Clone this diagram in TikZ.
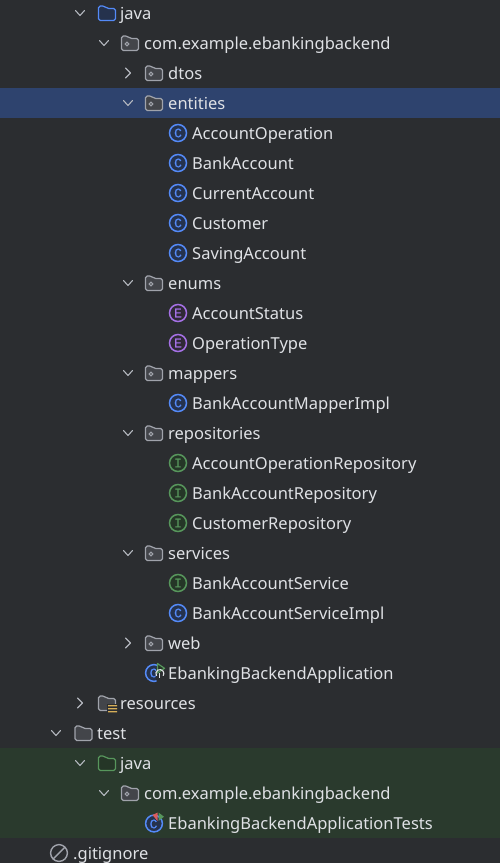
\documentclass[tikz,border=0pt]{standalone}
\usepackage{fontspec}
\setmainfont{Noto Sans}
\newfontfamily\monoicon{Liberation Mono}[FakeBold=0.6]
\definecolor{bgc}{HTML}{2B2D30}
\definecolor{selc}{HTML}{2E436E}
\definecolor{testc}{HTML}{2A3A2D}
\definecolor{txtc}{HTML}{DFE1E5}
\definecolor{chevc}{HTML}{B4B8BF}
\definecolor{grayst}{HTML}{A0A3AB}
\definecolor{grayfl}{HTML}{43454A}
\definecolor{bluest}{HTML}{548AF7}
\definecolor{bluefl}{HTML}{25324D}
\definecolor{greenst}{HTML}{57965C}
\definecolor{greenfl}{HTML}{253627}
\definecolor{purst}{HTML}{A571E6}
\definecolor{purfl}{HTML}{2F2936}
\definecolor{yelc}{HTML}{D6AE58}
\definecolor{redc}{HTML}{DB5C5C}
\tikzset{
  label text/.style={anchor=west,inner sep=0pt,text=txtc,font=\fontsize{16.5}{18}\selectfont},
  chev/.style={draw=chevc,line width=1.1pt,line cap=round,line join=round},
  badge/.style={circle,minimum size=17pt,inner sep=0pt,line width=1.5pt,font=\fontsize{13}{14}\selectfont},
}
\newcommand{\lbl}[4]{\node[label text] (#1) at (#2,#3+2.2) {\vphantom{Apg}#4};}
\newcommand{\chevdown}[2]{\draw[chev] (#1-4.5,#2-2.5) -- (#1,#2+2.5) -- (#1+4.5,#2-2.5);}
\newcommand{\chevright}[2]{\draw[chev] (#1-2.5,#2-5) -- (#1+2.5,#2) -- (#1-2.5,#2+5);}
\newcommand{\folder}[4]{\draw[draw=#3,fill=#4,line width=1.2pt,rounded corners=1.8pt]
  (#1+0.5,#2+7.5) -- (#1+0.5,#2-7) -- (#1+6.5,#2-7) -- (#1+9,#2-4.5) -- (#1+17.5,#2-4.5) -- (#1+17.5,#2+7.5) -- cycle;}
\newcommand{\pkg}[2]{\folder{#1}{#2}{grayst}{grayfl}\draw[grayst,line width=1.1pt] (#1+6,#2+1) circle (1.9);}
\newcommand{\badgeicon}[5]{\node[badge,draw=#3,fill=#4,text=#3] at (#1,#2) {\monoicon #5};}
\newcommand{\classrow}[4]{\badgeicon{178}{#2}{bluest}{bluefl}{C}\lbl{#1}{192}{#2}{#3}}
\newcommand{\enumrow}[3]{\badgeicon{178}{#2}{purst}{purfl}{E}\lbl{#1}{192}{#2}{#3}}
\newcommand{\ifacerow}[3]{\badgeicon{178}{#2}{greenst}{greenfl}{I}\lbl{#1}{192}{#2}{#3}}
\begin{document}
\begin{tikzpicture}[x=1pt,y=-1pt]
\useasboundingbox (0,0) rectangle (500,863);
\fill[bgc] (0,0) rectangle (500,863);
\fill[selc] (0,88) rectangle (500,118);
\fill[testc] (0,748) rectangle (500,838);

\chevdown{80}{13}\folder{98}{13}{bluest}{bluefl}\lbl{javamain}{120}{13}{java}
\chevdown{104}{43}\pkg{121}{43}\lbl{pkgmain}{144}{43}{com.example.ebankingbackend}
\chevright{128}{73}\pkg{145}{73}\lbl{dtos}{168}{73}{dtos}
\chevdown{128}{103}\pkg{145}{103}\lbl{entities}{168}{103}{entities}
\classrow{accop}{133}{AccountOperation}{}
\classrow{bankacc}{163}{BankAccount}{}
\classrow{curacc}{193}{CurrentAccount}{}
\classrow{cust}{223}{Customer}{}
\classrow{savacc}{253}{SavingAccount}{}
\chevdown{128}{283}\pkg{145}{283}\lbl{enums}{168}{283}{enums}
\enumrow{accst}{313}{AccountStatus}
\enumrow{optype}{343}{OperationType}
\chevdown{128}{373}\pkg{145}{373}\lbl{mappers}{168}{373}{mappers}
\classrow{mapimpl}{403}{BankAccountMapperImpl}{}
\chevdown{128}{433}\pkg{145}{433}\lbl{repos}{168}{433}{repositories}
\ifacerow{aorepo}{463}{AccountOperationRepository}
\ifacerow{barepo}{493}{BankAccountRepository}
\ifacerow{curepo}{523}{CustomerRepository}
\chevdown{128}{553}\pkg{145}{553}\lbl{services}{168}{553}{services}
\ifacerow{basvc}{583}{BankAccountService}
\classrow{basvcimpl}{613}{BankAccountServiceImpl}{}
\chevright{128}{643}\pkg{145}{643}\lbl{web}{168}{643}{web}

\draw[bluest,fill=bluefl,line width=1.5pt] (154,673) circle (8.4);
\node[text=bluest,inner sep=0pt,font=\monoicon\fontsize{13}{14}\selectfont] at (153.5,673) {C};
\fill[bgc] (158,659) -- (170,659) -- (170,687) -- (158,687) -- (155.5,676) -- cycle;
\draw[greenst,fill=greenfl,line width=1.2pt,line join=round] (157.5,663.5) -- (157.5,673) -- (164.5,668.3) -- cycle;
\draw[txtc,line width=1.1pt] (156.6,675.8) arc[start angle=-215,end angle=35,radius=4];
\draw[txtc,line width=1.1pt] (159.7,673) -- (159.7,678);
\lbl{app}{168}{673}{EbankingBackendApplication}

\chevright{80}{703}\folder{98}{703}{grayst}{grayfl}
\fill[bgc] (106.5,704) rectangle (118,714);
\fill[yelc] (108,705) rectangle (117,706.3) (108,708) rectangle (117,709.3) (108,711) rectangle (117,712.3);
\lbl{res}{120}{703}{resources}

\chevdown{56}{733}\folder{74.5}{733}{grayst}{grayfl}\lbl{test}{97}{733}{test}
\chevdown{80}{763}\folder{98}{763}{greenst}{greenfl}\lbl{javatest}{120}{763}{java}
\chevdown{104}{793}\pkg{121}{793}\lbl{pkgtest}{144}{793}{com.example.ebankingbackend}

\draw[bluest,fill=bluefl,line width=1.5pt] (154,823.5) circle (8.4);
\node[text=bluest,inner sep=0pt,font=\monoicon\fontsize{13}{14}\selectfont] at (153.5,824) {C};
\fill[redc] (152.5,815) -- (157.5,812.5) -- (157.5,821) -- cycle;
\fill[greenst] (158.5,812.5) -- (158.5,821) -- (164,816.7) -- cycle;
\lbl{apptest}{168}{823}{EbankingBackendApplicationTests}

\draw[grayst,line width=1.4pt] (59,853) circle (8.4);
\draw[grayst,line width=1.4pt] (53.2,858.8) -- (64.8,847.2);
\lbl{gitig}{73}{853}{.gitignore}
\end{tikzpicture}
\end{document}
